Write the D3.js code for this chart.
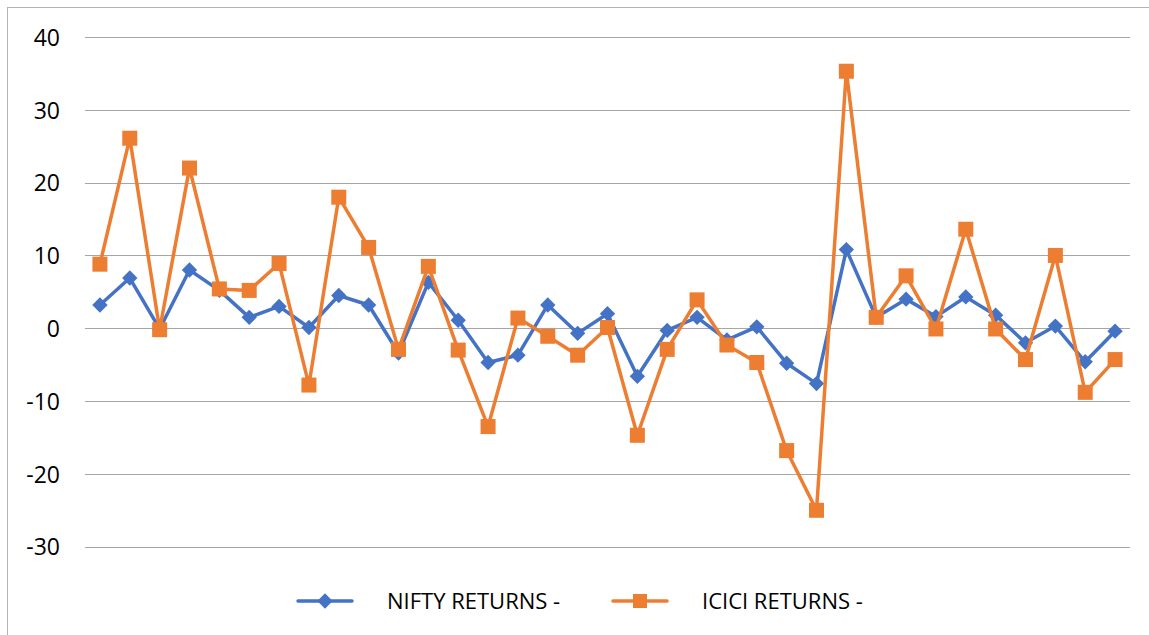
<!DOCTYPE html>
<html>
<head>
<meta charset="utf-8">
<script src="https://cdn.jsdelivr.net/npm/d3@7"></script>
<style>
  body { margin: 0; background: #fff; }
  text { font-family: "Open Sans", sans-serif; fill: #000; }
</style>
</head>
<body>
<div id="chart"></div>
<script>
// values
var niftyReturns = [3.2, 6.9, -0.1, 8.0, 5.2, 1.5, 3.0, 0.1, 4.5, 3.2,
    -3.4, 6.3, 1.1, -4.7, -3.7, 3.2, -0.7, 2.0, -6.6, -0.3,
    1.5, -1.6, 0.2, -4.8, -7.6, 10.8, 1.5, 4.0, 1.6, 4.3,
    1.8, -2.0, 0.3, -4.6, -0.4];
var iciciReturns = [8.8, 26.1, -0.2, 22.0, 5.4, 5.2, 8.9, -7.8, 18.0, 11.1,
    -2.9, 8.5, -3.0, -13.5, 1.4, -1.1, -3.7, 0.1, -14.7, -2.9,
    3.9, -2.3, -4.7, -16.8, -25.0, 35.3, 1.5, 7.2, -0.1, 13.6,
    -0.1, -4.3, 10.0, -8.8, -4.3];
var yTicks = [-30, -20, -10, 0, 10, 20, 30, 40];
var seriesNames = ['NIFTY RETURNS -', 'ICICI RETURNS -'];
var seriesColors = ['#4472C4', '#ED7D31'];

var W = 1149, H = 635;
var margin = {top: 37, right: 19, bottom: 88, left: 85};  // plot area 85..1130, 37..546.7

var svg = d3.select('#chart').append('svg')
    .attr('width', W)
    .attr('height', H);

// outer chart border
svg.append('rect')
    .attr('x', 7.5).attr('y', 7.5)
    .attr('width', W + 10).attr('height', H + 10)
    .attr('fill', 'none')
    .attr('stroke', '#b3b3b3')
    .attr('stroke-width', 1);

var idx = d3.range(niftyReturns.length);
var x = d3.scaleBand().domain(idx).range([margin.left, W - margin.right]);
var y = d3.scaleLinear().domain([-30, 40]).range([546.7, margin.top]);

// gridlines
svg.append('g')
    .selectAll('line')
    .data(yTicks)
    .enter().append('line')
    .attr('x1', margin.left).attr('x2', W - margin.right)
    .attr('y1', function(d){ return Math.round(y(d)) + 0.5; })
    .attr('y2', function(d){ return Math.round(y(d)) + 0.5; })
    .attr('stroke', '#a6a6a6')
    .attr('stroke-width', 1);

// y axis labels (plain hyphen for negatives, like the original)
var yAxis = d3.axisLeft(y).tickValues(yTicks).tickSize(0).tickPadding(0)
    .tickFormat(function(d){ return String(d); });
var gy = svg.append('g')
    .attr('transform', 'translate(60,0)')
    .call(yAxis);
gy.select('.domain').remove();
gy.selectAll('text')
    .style('font-family', '"Open Sans", sans-serif')
    .style('font-size', '23px')
    .attr('fill', '#000')
    .attr('dy', '0.36em');

function cx(d, i){ return x(i) + x.bandwidth() / 2; }

var line = d3.line()
    .x(function(d, i){ return cx(d, i); })
    .y(function(d){ return y(d); });

var diamond = d3.symbol().type(d3.symbolDiamond2).size(150);

function drawSeries(data, color, shape) {
    var g = svg.append('g');
    g.append('path')
        .datum(data)
        .attr('d', line)
        .attr('fill', 'none')
        .attr('stroke', color)
        .attr('stroke-width', 3.5)
        .attr('stroke-linejoin', 'round');
    if (shape === 'diamond') {
        g.selectAll('path.m')
            .data(data)
            .enter().append('path')
            .attr('class', 'm')
            .attr('d', diamond)
            .attr('transform', function(d, i){ return 'translate(' + cx(d, i) + ',' + y(d) + ')'; })
            .attr('fill', color);
    } else {
        g.selectAll('rect')
            .data(data)
            .enter().append('rect')
            .attr('x', function(d, i){ return cx(d, i) - 7.5; })
            .attr('y', function(d){ return y(d) - 7.5; })
            .attr('width', 15).attr('height', 15)
            .attr('fill', color);
    }
}

drawSeries(niftyReturns, seriesColors[0], 'diamond');
drawSeries(iciciReturns, seriesColors[1], 'square');

// legend
var legendX = [298, 613];
var legend = svg.append('g');
seriesNames.forEach(function(name, i){
    var lx = legendX[i], ly = 601;
    legend.append('line')
        .attr('x1', lx).attr('x2', lx + 54)
        .attr('y1', ly).attr('y2', ly)
        .attr('stroke', seriesColors[i])
        .attr('stroke-width', 3.5)
        .attr('stroke-linecap', 'round');
    if (i === 0) {
        legend.append('path')
            .attr('d', diamond)
            .attr('transform', 'translate(' + (lx + 27) + ',' + ly + ')')
            .attr('fill', seriesColors[i]);
    } else {
        legend.append('rect')
            .attr('x', lx + 20).attr('y', ly - 7)
            .attr('width', 14).attr('height', 14)
            .attr('fill', seriesColors[i]);
    }
    legend.append('text')
        .attr('x', lx + 89)
        .attr('y', 609)
        .style('font-size', '22px')
        .text(name);
});
</script>
</body>
</html>
